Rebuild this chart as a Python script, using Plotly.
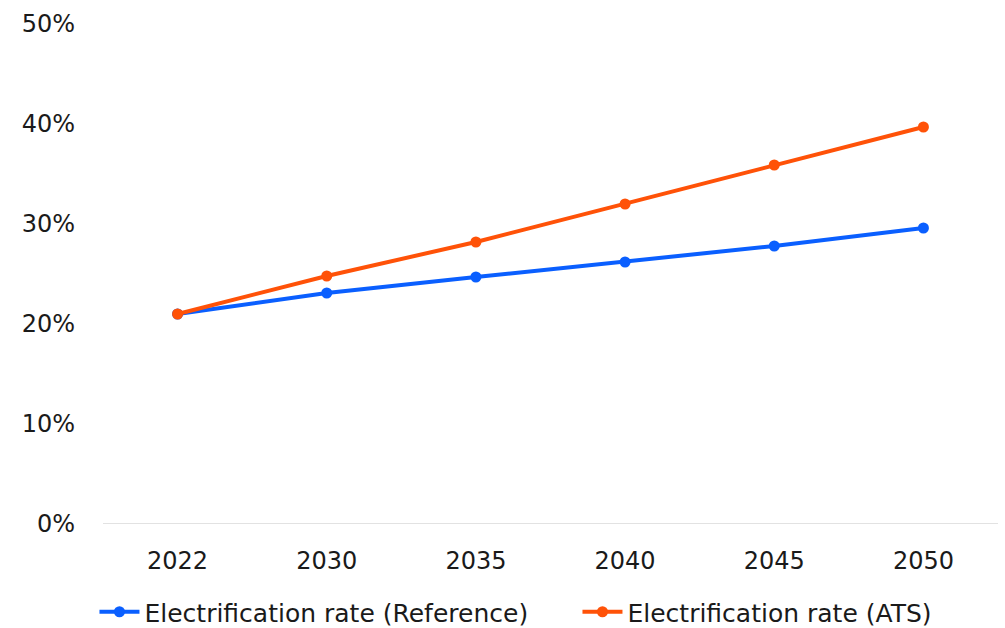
import plotly.graph_objects as go

years = ["2022", "2030", "2035", "2040", "2045", "2050"]
rate_reference = [0.210, 0.231, 0.247, 0.262, 0.278, 0.296]
rate_ats = [0.210, 0.248, 0.282, 0.320, 0.359, 0.397]
y_ticks = [0, 0.1, 0.2, 0.3, 0.4, 0.5]

BLUE = "#0A5FFF"
ORANGE = "#FF5208"
FONT = "Verdana, DejaVu Sans, sans-serif"

fig = go.Figure()
fig.add_trace(go.Scatter(
    x=years, y=rate_reference, mode="lines+markers",
    name="Electrification rate (Reference)", legend="legend", showlegend=True,
    line=dict(color=BLUE, width=4), marker=dict(color=BLUE, size=11),
))
fig.add_trace(go.Scatter(
    x=years, y=rate_ats, mode="lines+markers",
    name="Electrification rate (ATS)", legend="legend2", showlegend=True,
    line=dict(color=ORANGE, width=4), marker=dict(color=ORANGE, size=11),
))

legend_style = dict(
    orientation="h", xref="container", xanchor="left",
    yref="container", y=1 - 612 / 628, yanchor="middle",
    font=dict(size=25), itemwidth=40, bgcolor="rgba(0,0,0,0)",
)

fig.update_layout(
    width=1005, height=628,
    showlegend=True,
    margin=dict(l=103, r=7, t=24, b=104),
    paper_bgcolor="white", plot_bgcolor="white",
    font=dict(family=FONT, size=24, color="#1a1a1a"),
    xaxis=dict(
        type="category", range=[-0.5, len(years) - 0.5], automargin=False,
        showgrid=False, showline=False, zeroline=False,
        ticks="", tickfont=dict(size=24), ticklabelstandoff=20,
    ),
    yaxis=dict(
        range=[0, 0.5], tickvals=y_ticks, tickformat=".0%", automargin=False,
        showgrid=False, zeroline=False, showline=False, ticks="",
        tickfont=dict(size=24), ticklabelstandoff=27,
    ),
    legend=dict(legend_style, x=0.094),
    legend2=dict(legend_style, x=0.5746),
    shapes=[dict(
        type="line", xref="paper", yref="y", x0=0, x1=1, y0=0, y1=0,
        line=dict(color="#d9d9d9", width=1.5), layer="below",
    )],
)

fig.write_html("out.html")
